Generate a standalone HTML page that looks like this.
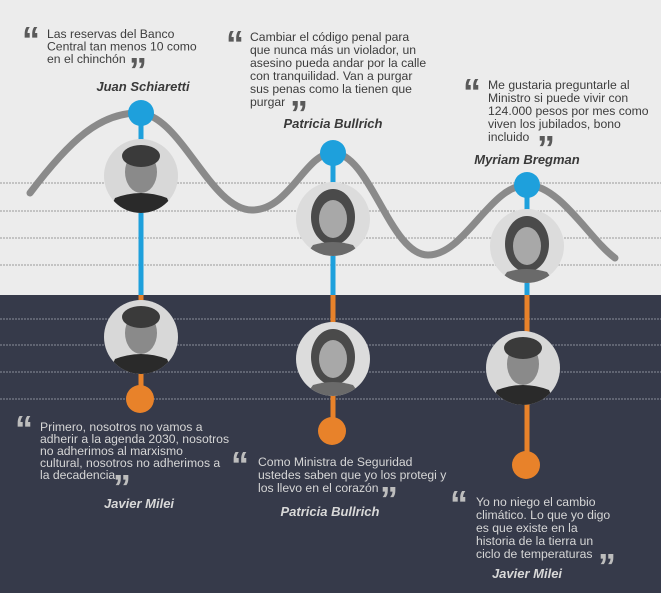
<!DOCTYPE html>
<html><head><meta charset="utf-8"><style>
body{margin:0;width:661px;height:593px;overflow:hidden;font-family:"Liberation Sans",sans-serif}
svg{display:block}
.q{font-size:12.2px;fill:#3d3d3d}
.qd{font-size:12.2px;fill:#d6d6d6}
.n{font-size:13px;font-weight:bold;font-style:italic;fill:#3a3a3a}
.nd{font-size:13px;font-weight:bold;font-style:italic;fill:#d8d8d8}
.m{font-family:"Liberation Sans",sans-serif;font-size:36px;font-weight:bold;fill:#5a5a5a}
.md{font-family:"Liberation Sans",sans-serif;font-size:36px;font-weight:bold;fill:#bdbdbd}
</style></head><body>
<svg width="661" height="593" viewBox="0 0 661 593">
<defs>
<clipPath id="c"><circle cx="0" cy="0" r="37"/></clipPath>
<g id="man" clip-path="url(#c)"><rect x="-40" y="-40" width="80" height="80" fill="#d8d8d8"/><ellipse cx="0" cy="-4" rx="16" ry="21" fill="#8a8a8a"/><ellipse cx="0" cy="-20" rx="19" ry="11" fill="#3a3a3a"/><path d="M-34,40 L-26,22 Q0,12 26,22 L34,40Z" fill="#2a2a2a"/></g>
<g id="wom" clip-path="url(#c)"><rect x="-40" y="-40" width="80" height="80" fill="#dcdcdc"/><ellipse cx="0" cy="-2" rx="22" ry="28" fill="#4a4a4a"/><ellipse cx="0" cy="0" rx="14" ry="19" fill="#a8a8a8"/><path d="M-30,40 L-20,26 Q0,20 20,26 L30,40Z" fill="#6a6a6a"/></g>
</defs>
<rect width="661" height="295" fill="#ececec"/>
<rect y="295" width="661" height="298" fill="#363a4a"/>
<g stroke="#9a9a9a" stroke-width="1" stroke-dasharray="2,1">
<line x1="0" y1="183" x2="661" y2="183"/><line x1="0" y1="211" x2="661" y2="211"/>
<line x1="0" y1="238" x2="661" y2="238"/><line x1="0" y1="265" x2="661" y2="265"/>
</g>
<g stroke="#8a8e9a" stroke-width="1" stroke-dasharray="2,1">
<line x1="0" y1="319" x2="661" y2="319"/><line x1="0" y1="345" x2="661" y2="345"/>
<line x1="0" y1="372" x2="661" y2="372"/><line x1="0" y1="399" x2="661" y2="399"/>
</g>
<path d="M30,193 C70,140 100,113 138,113 C180,113 210,210 252,210 C290,210 305,153 333,153 C370,153 390,255 428,255 C465,255 490,185 527,185 C560,185 590,240 615,258" fill="none" stroke="#8a8a8a" stroke-width="7" stroke-linecap="round"/>
<g stroke-width="5">
<line x1="141" y1="113" x2="141" y2="295" stroke="#1ea0dc"/><line x1="141" y1="295" x2="141" y2="399" stroke="#e8822a"/>
<line x1="333" y1="153" x2="333" y2="295" stroke="#1ea0dc"/><line x1="333" y1="295" x2="333" y2="430" stroke="#e8822a"/>
<line x1="527" y1="185" x2="527" y2="295" stroke="#1ea0dc"/><line x1="527" y1="295" x2="527" y2="465" stroke="#e8822a"/>
</g>
<circle cx="141" cy="113" r="13" fill="#1ea0dc"/><circle cx="333" cy="153" r="13" fill="#1ea0dc"/><circle cx="527" cy="185" r="13" fill="#1ea0dc"/>
<circle cx="140" cy="399" r="14" fill="#e8822a"/><circle cx="332" cy="431" r="14" fill="#e8822a"/><circle cx="526" cy="465" r="14" fill="#e8822a"/>
<use href="#man" x="141" y="176"/>
<use href="#wom" x="333" y="219"/>
<use href="#wom" x="527" y="246"/>
<use href="#man" x="141" y="337"/>
<use href="#wom" x="333" y="359"/>
<use href="#man" x="523" y="368"/>

<text class="m" x="22" y="52">“</text>
<text class="q"><tspan x="47" y="38">Las reservas del Banco</tspan><tspan x="47" y="50.5">Central tan menos 10 como</tspan><tspan x="47" y="63">en el chinchón</tspan></text>
<text class="m" x="129" y="83">”</text>
<text class="n" x="143" y="91" text-anchor="middle">Juan Schiaretti</text>

<text class="m" x="226" y="56">“</text>
<text class="q"><tspan x="250" y="41">Cambiar el código penal para</tspan><tspan x="250" y="54">que nunca más un violador, un</tspan><tspan x="250" y="67">asesino pueda andar por la calle</tspan><tspan x="250" y="80">con tranquilidad. Van a purgar</tspan><tspan x="250" y="93">sus penas como la tienen que</tspan><tspan x="250" y="106">purgar</tspan></text>
<text class="m" x="290" y="126">”</text>
<text class="n" x="333" y="128" text-anchor="middle">Patricia Bullrich</text>

<text class="m" x="463" y="104">“</text>
<text class="q"><tspan x="488" y="89">Me gustaria preguntarle al</tspan><tspan x="488" y="102">Ministro si puede vivir con</tspan><tspan x="488" y="115">124.000 pesos por mes como</tspan><tspan x="488" y="128">viven los jubilados, bono</tspan><tspan x="488" y="141">incluido</tspan></text>
<text class="m" x="537" y="161">”</text>
<text class="n" x="527" y="164" text-anchor="middle">Myriam Bregman</text>

<text class="md" x="15" y="441">“</text>
<text class="qd"><tspan x="40" y="431">Primero, nosotros no vamos a</tspan><tspan x="40" y="443">adherir a la agenda 2030, nosotros</tspan><tspan x="40" y="455">no adherimos al marxismo</tspan><tspan x="40" y="467">cultural, nosotros no adherimos a</tspan><tspan x="40" y="479">la decadencia</tspan></text>
<text class="md" x="113" y="500">”</text>
<text class="nd" x="139" y="508" text-anchor="middle">Javier Milei</text>

<text class="md" x="231" y="477">“</text>
<text class="qd"><tspan x="258" y="466">Como Ministra de Seguridad</tspan><tspan x="258" y="479">ustedes saben que yo los protegi y</tspan><tspan x="258" y="492">los llevo en el corazón</tspan></text>
<text class="md" x="380" y="512">”</text>
<text class="nd" x="330" y="516" text-anchor="middle">Patricia Bullrich</text>

<text class="md" x="450" y="516">“</text>
<text class="qd"><tspan x="476" y="506">Yo no niego el cambio</tspan><tspan x="476" y="519">climático. Lo que yo digo</tspan><tspan x="476" y="532">es que existe en la</tspan><tspan x="476" y="545">historia de la tierra un</tspan><tspan x="476" y="558">ciclo de temperaturas</tspan></text>
<text class="md" x="598" y="579">”</text>
<text class="nd" x="527" y="578" text-anchor="middle">Javier Milei</text>
</svg>
</body></html>
